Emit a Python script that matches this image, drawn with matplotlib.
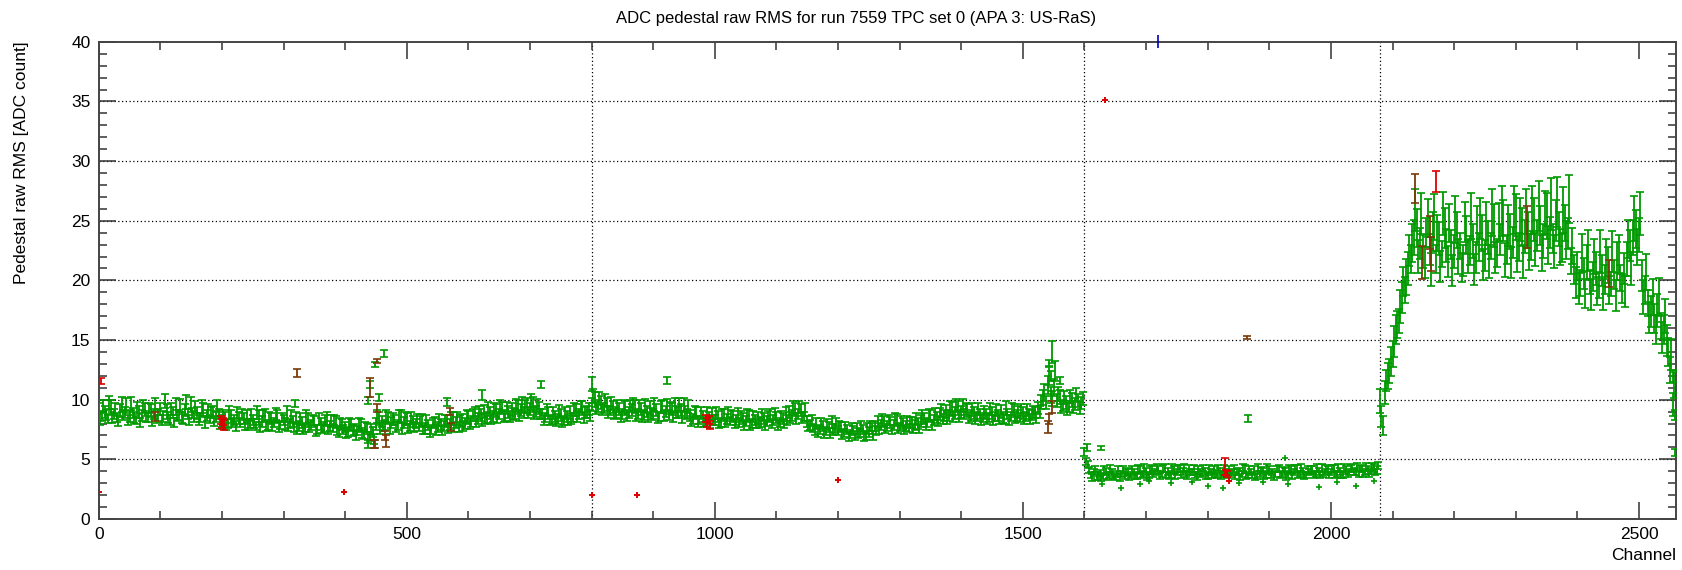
import numpy as np
import matplotlib
matplotlib.use("Agg")
import matplotlib.pyplot as plt
from matplotlib.ticker import MultipleLocator

plt.rcParams['font.family'] = ['Liberation Sans', 'DejaVu Sans']

# ---- data ----
# series "a" holds channels start, start+5, ...; series "b" the channels 2 further on
step = 5

# U + V planes, channels 0..1599
rms_uv_a = """
9.3 8.6 9.0 8.4 9.4 8.8 8.5 9.1 8.7 9.5 8.6 8.9 8.3 9.0 8.7 9.2
8.5 9.1 8.8 8.4 9.2 8.6 9.0 8.3 8.9 9.4 8.7 8.5 9.1 8.8 9.6 8.6
8.9 8.5 9.2 8.7 8.4 9.0 8.6 8.8 8.2 8.5 8.0 8.6 8.3 8.9 8.1 8.4
8.6 8.0 8.3 7.8 8.5 8.2 8.7 7.9 8.4 8.1 8.6 7.9 8.3 8.8 8.0 8.2
8.5 7.8 8.1 7.6 8.3 7.9 8.2 7.5 8.0 7.7 8.4 7.8 7.6 8.1 7.3 7.9
7.7 7.3 7.9 7.5 7.4 7.8 7.1 7.6 6.9 7.3 8.0 8.4 8.2 7.9 8.5 8.1
8.3 7.9 8.6 8.1 8.4 7.8 8.2 8.0 7.7 8.3 7.6 7.9 7.5 8.1 7.7 7.9
7.8 8.2 7.9 8.4 8.1 7.7 8.3 8.0 8.5 8.2 8.8 8.4 8.7 9.0 8.5 8.9
8.6 9.1 8.8 9.3 8.7 9.0 9.2 8.8 9.4 9.1 8.9 9.5 9.2 9.6 9.0 9.3
8.8 8.5 8.9 8.3 8.6 8.4 8.7 8.2 8.6 8.9 8.5 9.1 8.8 9.3 8.9 9.2
9.6 10.0 9.5 9.8 9.3 9.6 9.1 9.4 8.9 9.2 8.8 9.3 8.9 9.1 9.4 8.8
9.2 8.7 9.0 9.3 8.8 9.1 8.6 9.4 9.0 8.7 9.2 9.5 8.9 9.1 9.6 8.8
8.7 8.4 8.9 8.3 8.6 8.2 8.5 8.8 8.3 8.6 8.1 8.7 8.4 8.2 8.6 8.3
8.1 8.4 8.2 8.6 8.0 8.3 8.5 8.1 8.4 8.2 8.7 8.3 8.5 8.1 8.4 8.8
9.0 8.7 9.2 8.8 9.1 8.6 8.2 7.9 7.6 8.0 7.5 7.8 7.4 7.7 8.1 7.6
7.4 7.7 7.2 7.5 7.1 7.4 7.6 7.2 7.5 7.0 7.3 7.6 7.8 8.1 7.9 8.2
7.8 8.1 7.9 8.3 7.7 8.0 7.8 7.6 8.1 7.9 8.0 8.2 8.4 8.1 8.6 8.3
8.5 8.8 8.4 9.0 8.7 9.2 8.9 9.3 9.0 8.8 9.1 8.7 8.9 8.6 8.8 8.5
8.8 8.5 8.9 8.6 8.7 9.0 8.4 8.8 8.6 9.1 8.7 8.5 8.9 8.6 8.8 8.7
8.9 9.3 9.8 10.6 11.2 10.4 11.0 9.9 10.2 9.5 9.8 9.4 10.0 9.6 9.9 9.7
"""
err_uv_a = """
.45 .40 .50 .35 .60 .45 .40 .55 .40 .65 .45 .40 .35 .50 .45 .55
.40 .55 .45 .35 .50 .45 .60 .40 .45 .70 .40 .45 .50 .40 .60 .45
.50 .40 .55 .45 .35 .50 .45 .40 .50 .45 .40 .55 .45 .50 .40 .45
.55 .40 .45 .35 .60 .45 .50 .40 .45 .40 .55 .35 .45 .65 .40 .45
.50 .40 .45 .35 .55 .40 .45 .40 .50 .45 .60 .40 .35 .50 .40 .45
.45 .40 .50 .45 .40 .55 .40 .45 .40 .45 .50 .55 .45 .40 .50 .45
.45 .40 .55 .45 .50 .40 .45 .40 .35 .50 .45 .40 .35 .45 .40 .45
.40 .50 .45 .55 .45 .40 .50 .45 .55 .45 .60 .45 .50 .55 .45 .50
.45 .55 .40 .50 .45 .50 .55 .45 .60 .50 .45 .65 .50 .60 .45 .50
.45 .40 .50 .35 .45 .40 .50 .35 .45 .55 .40 .50 .45 .55 .45 .50
.55 .65 .50 .55 .45 .55 .40 .50 .45 .50 .40 .55 .45 .50 .55 .40
.50 .40 .45 .55 .40 .50 .40 .55 .45 .40 .50 .60 .45 .50 .55 .40
.45 .40 .50 .35 .45 .40 .45 .50 .40 .45 .35 .50 .40 .35 .45 .40
.40 .45 .40 .50 .35 .45 .50 .40 .45 .40 .50 .40 .45 .35 .45 .55
.50 .45 .55 .45 .50 .40 .45 .40 .35 .45 .40 .45 .35 .40 .50 .40
.40 .45 .35 .40 .35 .40 .45 .35 .40 .35 .40 .45 .45 .50 .40 .45
.40 .45 .40 .50 .35 .45 .40 .35 .45 .40 .45 .50 .45 .40 .50 .45
.45 .50 .40 .55 .45 .60 .50 .55 .50 .45 .55 .45 .50 .40 .45 .40
.45 .40 .50 .40 .45 .55 .40 .45 .40 .55 .45 .40 .50 .40 .45 .40
.45 .50 .60 .70 .75 .65 .70 .55 .60 .45 .55 .45 .60 .50 .55 .50
"""
rms_uv_b = """
8.4 9.5 8.7 9.8 8.5 9.2 8.2 9.6 8.9 8.3 9.7 8.5 9.3 8.1 9.4 8.6
9.3 8.2 9.6 8.7 8.3 9.9 8.5 9.2 8.1 8.7 9.5 8.4 9.8 8.3 8.9 9.4
8.3 9.4 8.1 9.1 8.9 8.2 9.5 8.0 8.7 7.9 8.9 8.1 7.8 8.5 8.8 7.9
7.9 8.7 8.0 8.9 7.7 8.6 7.8 8.5 7.8 8.8 7.7 8.5 8.0 7.8 8.6 7.7
7.6 8.4 7.5 8.6 7.7 8.3 7.4 8.4 7.6 8.3 7.5 8.2 8.3 7.4 8.0 7.5
7.2 8.0 7.4 7.0 8.0 7.2 7.7 6.8 7.5 6.7 8.6 7.6 7.8 8.6 7.6 8.4
7.7 8.6 7.6 8.4 7.6 8.5 7.7 8.4 8.2 7.5 8.2 7.3 8.1 7.5 8.3 7.4
8.3 7.6 8.5 7.7 8.4 8.2 7.8 8.6 8.0 8.7 8.2 8.9 8.3 8.4 9.2 8.4
9.2 8.5 9.4 8.6 9.3 8.6 8.8 9.5 8.7 9.6 9.4 8.9 9.8 8.9 9.5 8.8
8.3 9.1 8.3 8.9 8.2 9.0 8.2 8.9 8.3 8.4 9.2 8.6 9.4 8.5 9.0 8.7
10.3 9.3 10.1 9.2 9.9 9.0 9.7 8.8 9.5 8.6 9.4 8.7 9.5 9.6 8.7 9.5
8.6 9.5 8.5 8.8 9.6 8.5 9.4 8.7 9.5 9.3 8.6 9.0 9.6 8.5 9.0 9.4
8.2 9.0 8.2 8.9 8.1 8.8 8.1 8.3 8.9 8.0 8.8 8.1 8.9 8.7 8.0 8.8
8.6 7.9 8.7 7.9 8.6 8.0 8.1 8.7 7.9 8.6 8.0 8.8 7.9 8.6 8.0 8.3
8.5 9.3 8.4 9.4 8.5 9.2 7.8 8.3 7.4 7.3 8.0 7.2 7.9 7.2 7.5 8.0
7.8 7.1 7.7 6.9 7.6 7.0 7.2 7.8 6.9 7.6 7.8 7.0 7.4 7.6 8.3 7.6
8.3 7.5 8.4 7.6 8.2 7.5 8.2 8.1 7.6 8.4 7.6 8.6 7.9 8.7 7.9 8.8
8.2 9.1 8.7 8.5 9.3 8.6 9.5 8.6 9.5 9.2 8.5 9.2 8.4 9.2 8.3 9.0
8.4 9.2 8.3 9.1 8.4 8.5 9.3 8.3 9.2 8.5 9.0 9.1 8.4 9.1 8.4 9.0
8.5 9.0 10.2 9.8 12.0 10.1 12.4 10.5 9.4 10.2 9.2 10.3 9.4 10.4 9.3 10.1
"""
err_uv_b = """
.50 .45 .40 .55 .45 .50 .40 .60 .45 .40 .55 .45 .50 .40 .55 .45
.45 .40 .55 .50 .40 .60 .45 .50 .40 .45 .55 .40 .60 .45 .40 .50
.40 .55 .45 .50 .45 .40 .50 .45 .40 .45 .55 .40 .45 .50 .45 .40
.45 .50 .40 .55 .45 .50 .40 .45 .40 .50 .45 .40 .50 .45 .55 .40
.45 .50 .40 .55 .45 .40 .45 .50 .40 .45 .40 .50 .45 .40 .45 .40
.40 .50 .45 .40 .50 .45 .40 .45 .50 .40 .55 .45 .40 .50 .45 .50
.40 .50 .45 .55 .40 .50 .45 .40 .45 .40 .50 .45 .40 .45 .50 .40
.45 .40 .50 .45 .55 .50 .40 .55 .45 .50 .45 .55 .50 .45 .60 .45
.50 .45 .55 .45 .50 .45 .50 .55 .45 .60 .55 .45 .65 .50 .55 .45
.40 .50 .45 .50 .40 .55 .45 .50 .40 .45 .55 .45 .50 .45 .50 .45
.60 .50 .55 .45 .55 .50 .55 .45 .50 .45 .55 .45 .50 .55 .45 .50
.45 .55 .40 .50 .55 .45 .50 .45 .55 .50 .45 .50 .55 .45 .50 .55
.40 .50 .45 .50 .40 .55 .45 .40 .50 .40 .45 .40 .50 .45 .40 .50
.45 .40 .50 .40 .45 .40 .45 .50 .40 .45 .40 .50 .40 .45 .40 .45
.45 .55 .45 .50 .45 .55 .40 .45 .40 .40 .45 .40 .45 .40 .45 .45
.45 .40 .45 .35 .45 .40 .40 .45 .35 .45 .45 .40 .40 .45 .50 .40
.45 .40 .50 .40 .45 .40 .45 .45 .40 .50 .40 .50 .45 .50 .40 .50
.40 .55 .45 .50 .55 .45 .55 .50 .55 .50 .45 .55 .45 .50 .45 .50
.40 .50 .45 .50 .40 .45 .55 .40 .50 .45 .50 .50 .45 .50 .40 .50
.45 .50 .65 .55 .80 .60 .85 .60 .50 .55 .50 .55 .50 .55 .50 .55
"""

# first X plane, channels 1600..2079
rms_x1_a = """
5.6 4.6 3.7 3.9 3.5 3.8 3.6 4.0 3.7 3.9 3.5 4.1 3.8 3.6 4.0 3.7
3.9 3.6 4.1 3.8 4.0 3.7 4.2 3.9 4.1 3.8 4.3 4.0 3.7 4.1 3.9 4.2
4.0 3.8 4.2 3.9 3.7 4.1 3.8 4.0 3.6 3.9 4.1 3.7 4.0 3.8 3.9 4.1
3.9 3.6 4.0 3.8 4.2 3.7 3.9 4.1 3.6 3.8 4.0 3.7 4.1 3.9 3.8 4.2
3.8 4.0 3.7 4.1 3.9 4.2 3.8 4.0 3.7 3.9 4.1 3.8 4.0 4.3 3.9 4.1
3.9 4.2 3.8 4.0 3.7 4.1 3.9 4.3 4.0 3.8 4.2 3.9 4.1 4.0 4.3 4.1
"""
err_x1_a = """
.35 .30 .25 .30 .25 .30 .25 .30 .25 .30 .20 .30 .25 .25 .30 .25
.30 .25 .30 .25 .30 .25 .35 .25 .30 .25 .35 .30 .25 .30 .25 .30
.30 .25 .30 .25 .25 .30 .25 .30 .25 .25 .30 .25 .30 .25 .25 .30
.25 .25 .30 .25 .35 .25 .25 .30 .25 .25 .30 .25 .30 .25 .25 .30
.25 .30 .25 .30 .25 .35 .25 .30 .25 .25 .30 .25 .30 .35 .25 .30
.25 .35 .25 .30 .25 .30 .25 .35 .30 .25 .30 .25 .30 .25 .35 .30
"""
rms_x1_b = """
4.8 4.1 3.5 4.2 3.6 3.4 4.1 3.5 4.2 3.6 3.8 3.5 4.2 3.9 3.5 4.1
3.6 4.2 3.7 4.3 3.5 4.1 3.8 4.3 3.6 4.2 3.7 3.6 4.3 3.6 4.2 3.7
4.3 3.6 3.9 4.2 3.5 3.9 4.3 3.6 4.2 3.7 3.8 4.3 3.6 4.2 3.7 3.8
4.2 3.9 3.5 4.3 3.6 4.1 3.7 3.5 4.3 4.1 3.6 4.3 3.7 3.6 4.2 3.7
4.1 3.6 4.3 3.6 4.2 3.7 4.3 3.6 4.2 4.1 3.7 4.3 3.7 3.8 4.2 3.7
4.2 3.7 4.3 3.7 4.3 3.8 4.2 3.9 4.4 4.2 3.8 4.4 3.8 4.4 3.9 4.5
"""
err_x1_b = """
.30 .25 .30 .25 .30 .25 .30 .25 .30 .25 .25 .30 .25 .30 .25 .30
.25 .30 .25 .35 .25 .30 .25 .30 .25 .30 .25 .25 .30 .25 .30 .25
.30 .25 .25 .30 .25 .30 .25 .25 .30 .25 .30 .25 .25 .30 .25 .30
.30 .25 .25 .30 .25 .30 .25 .25 .30 .25 .25 .30 .25 .30 .25 .25
.25 .30 .25 .25 .30 .25 .30 .25 .25 .30 .25 .30 .25 .25 .30 .25
.30 .25 .30 .25 .30 .25 .30 .25 .30 .25 .25 .30 .25 .30 .25 .30
"""

# second X plane, channels 2080..2559
rms_x2_a = """
9.9 7.8 11.6 12.4 13.8 15.9 16.6 18.6 19.2 21.0 21.8 23.6 24.4 23.1 22.4 24.0
22.6 24.1 21.8 23.5 22.2 24.4 21.6 23.0 22.4 24.2 22.9 21.7 23.8 22.5 23.3 21.9
22.8 24.0 22.1 23.6 22.9 24.6 22.3 23.4 25.0 22.6 24.1 23.2 25.3 22.8 24.5 23.7
24.2 22.9 25.1 23.8 24.6 23.3 25.4 24.0 23.5 25.0 24.3 22.7 24.8 23.9 21.6 20.9
21.2 19.8 20.6 21.5 19.9 20.3 21.0 19.6 20.8 20.1 21.3 19.7 20.5 21.6 20.2 21.0
21.8 22.9 23.6 24.3 23.8 20.4 19.2 18.1 17.4 16.8 17.5 16.2 15.9 15.0 12.5 9.6
"""
err_x2_a = """
1.0 0.8 0.9 1.0 1.1 1.2 1.0 1.3 1.1 1.4 1.2 1.5 1.6 1.3 1.4 1.2
1.3 1.6 1.2 1.4 1.1 1.7 1.3 1.2 1.4 1.5 1.1 1.3 1.6 1.2 1.4 1.3
1.2 1.5 1.3 1.4 1.1 1.8 1.2 1.3 1.7 1.2 1.5 1.3 1.9 1.2 1.6 1.4
1.5 1.2 1.8 1.3 1.6 1.4 1.9 1.3 1.2 1.7 1.4 1.2 1.5 1.3 1.1 1.2
1.2 1.1 1.3 1.5 1.0 1.2 1.4 1.1 1.3 1.2 1.5 1.0 1.2 1.6 1.1 1.3
1.4 1.3 1.5 1.6 1.4 1.3 1.2 1.1 1.3 1.2 1.4 1.1 1.2 1.3 1.1 1.0
"""
rms_x2_b = """
8.6 10.6 12.0 13.2 14.9 16.3 17.8 19.9 20.3 22.5 23.1 25.9 22.0 25.6 21.5 25.2
20.9 25.3 24.0 21.2 25.6 22.9 24.8 20.8 25.1 22.0 21.1 24.9 22.0 25.4 20.9 24.6
25.2 21.3 24.8 21.6 25.7 21.9 24.9 25.8 21.7 24.6 21.5 25.9 22.2 25.1 21.6 25.8
22.4 25.9 22.6 26.2 22.3 25.7 23.0 26.4 22.4 26.6 22.8 25.9 23.4 26.8 22.9 19.8
19.3 22.3 18.9 22.5 18.8 22.0 19.1 22.4 18.8 21.9 19.2 22.4 18.7 22.2 19.3 19.1
23.5 21.0 25.2 22.8 25.6 18.6 20.7 16.9 18.6 15.9 18.6 15.2 17.0 14.0 13.8 11.2
"""
err_x2_b = """
0.9 1.0 1.1 1.2 1.3 1.1 1.4 1.2 1.5 1.3 1.6 1.8 1.4 1.7 1.3 1.6
1.4 1.9 1.5 1.3 1.8 1.4 1.6 1.3 2.0 1.5 1.2 1.7 1.4 1.9 1.3 1.6
1.7 1.3 1.8 1.4 2.0 1.3 1.6 2.1 1.4 1.7 1.3 2.0 1.5 1.8 1.4 1.9
1.5 2.0 1.4 2.1 1.5 1.8 1.6 2.2 1.4 2.1 1.5 1.9 1.6 2.0 1.5 1.3
1.3 1.6 1.2 1.7 1.3 1.5 1.2 1.8 1.3 1.6 1.2 1.7 1.3 1.6 1.2 1.3
1.6 1.4 1.9 1.5 1.8 1.4 1.5 1.3 1.5 1.2 1.6 1.3 1.4 1.2 1.3 1.1
"""

# single green channels off the main band (channel, rms, err)
green_ch = [318, 437, 437, 440, 448, 455, 463, 565, 622, 718, 801, 922,
            1543, 1545, 1548, 1560, 1604, 1626, 1865, 2556, 2558, 2559]
green_val = [9.7, 6.3, 9.9, 11.3, 12.95, 10.2, 13.9, 9.8, 10.4, 11.3, 11.3, 11.6,
             13.0, 12.0, 14.0, 11.6, 6.0, 5.95, 8.4, 12.0, 8.7, 5.6]
green_err = [0.3, 0.35, 0.3, 0.3, 0.2, 0.3, 0.3, 0.3, 0.45, 0.3, 0.6, 0.3,
             0.3, 0.4, 0.9, 0.3, 0.3, 0.2, 0.3, 0.5, 0.4, 0.3]

# low green channels drawn as small crosses
gplus_ch = [1629, 1660, 1690, 1705, 1740, 1775, 1800, 1825, 1850, 1890, 1926,
            1930, 1980, 2010, 2040, 2070]
gplus_val = [2.9, 2.6, 2.9, 3.2, 3.0, 3.1, 2.8, 2.6, 3.0, 3.1, 5.1,
             2.9, 2.7, 3.1, 2.8, 3.2]

# flagged channels (red)
red_ch = [3, 198, 200, 202, 204, 986, 988, 990, 992, 1828, 1830, 1832, 2171]
red_val = [11.6, 8.3, 8.0, 8.2, 7.9, 8.4, 8.1, 8.3, 7.9, 4.4, 3.9, 3.8, 28.3]
red_err = [0.25, 0.35, 0.4, 0.3, 0.4, 0.3, 0.35, 0.3, 0.35, 0.7, 0.2, 0.25, 0.9]
redplus_ch = [0, 398, 800, 874, 1200, 1633, 1834]
redplus_val = [2.3, 2.3, 2.05, 2.05, 3.25, 35.1, 3.2]

# flagged channels (brown)
brown_ch = [91, 322, 441, 446, 449, 451, 452, 465, 467, 570, 571, 1541, 1543,
            1547, 1864, 2137, 2148, 2160, 2162, 2319, 2451]
brown_val = [8.6, 12.25, 11.0, 6.3, 6.3, 13.25, 9.3, 7.0, 6.5, 9.0, 7.7, 7.7, 8.4,
             9.4, 15.2, 27.7, 21.5, 24.0, 22.2, 24.5, 20.6]
brown_err = [0.4, 0.35, 0.8, 0.35, 0.35, 0.2, 0.3, 0.4, 0.5, 0.3, 0.35, 0.5, 0.4,
             0.5, 0.15, 1.25, 1.35, 1.4, 1.4, 1.75, 1.15]

# one channel above the frame (blue)
blue_ch = [1720]
blue_val = [40.0]
blue_err = [0.55]

plane_edges = [800, 1600, 2080]


def parse(s):
    return np.array(s.split(), dtype=float)


GREEN = '#009900'
RED = '#dd0000'
BROWN = '#7a3a0a'
BLUE = '#0000bb'
bar_kw = dict(fmt='none', elinewidth=1.3, capsize=2.6, capthick=1.2)

fig = plt.figure(figsize=(16.82, 5.70), dpi=100)
ax = fig.add_axes([0.0587, 0.0895, 0.9377, 0.8372])

segments = [
    (0, rms_uv_a, err_uv_a), (2, rms_uv_b, err_uv_b),
    (1600, rms_x1_a, err_x1_a), (1602, rms_x1_b, err_x1_b),
    (2080, rms_x2_a, err_x2_a), (2082, rms_x2_b, err_x2_b),
]
for start, vals, errs in segments:
    y = parse(vals)
    e = parse(errs)
    x = start + step * np.arange(len(y))
    ax.errorbar(x, y, yerr=e, ecolor=GREEN, zorder=3, **bar_kw)

ax.errorbar(green_ch, green_val, yerr=green_err, ecolor=GREEN, zorder=3, **bar_kw)
ax.plot(gplus_ch, gplus_val, '+', color=GREEN, ms=5, mew=1.2, zorder=3)
ax.errorbar(brown_ch, brown_val, yerr=brown_err, ecolor=BROWN, zorder=4, **bar_kw)
ax.errorbar(red_ch, red_val, yerr=red_err, ecolor=RED, zorder=5, **bar_kw)
ax.plot(redplus_ch, redplus_val, '+', color=RED, ms=5, mew=1.4, zorder=5)
ax.errorbar(blue_ch, blue_val, yerr=blue_err, fmt='none', ecolor=BLUE,
            elinewidth=1.2, capsize=0, zorder=6, clip_on=False)

# dotted grid: horizontal every 5, vertical at plane boundaries
for yv in range(5, 40, 5):
    ax.axhline(yv, color='black', ls=(0, (1, 2)), lw=0.9, zorder=1)
for xv in plane_edges:
    ax.axvline(xv, color='black', ls=(0, (1, 2)), lw=0.9, zorder=1)

ax.set_xlim(0, 2560)
ax.set_ylim(0, 40)
ax.xaxis.set_major_locator(MultipleLocator(500))
ax.xaxis.set_minor_locator(MultipleLocator(100))
ax.yaxis.set_major_locator(MultipleLocator(5))
ax.yaxis.set_minor_locator(MultipleLocator(1))
ax.tick_params(which='both', direction='in', top=True, right=True,
               labelsize=12.5, color='#333333', width=1.1)
ax.tick_params(which='major', length=12, pad=6)
ax.tick_params(which='minor', length=6)
for sp in ax.spines.values():
    sp.set_linewidth(1.4)
    sp.set_color('#444444')

ax.set_xlabel('Channel', loc='right', fontsize=12.5, labelpad=4)
ax.set_ylabel('Pedestal raw RMS [ADC count]', loc='top', fontsize=12.5, labelpad=30)
fig.text(0.509, 0.967, 'ADC pedestal raw RMS for run 7559 TPC set 0 (APA 3: US-RaS)',
         ha='center', va='center', fontsize=12)

fig.savefig('out.png', dpi=100)
